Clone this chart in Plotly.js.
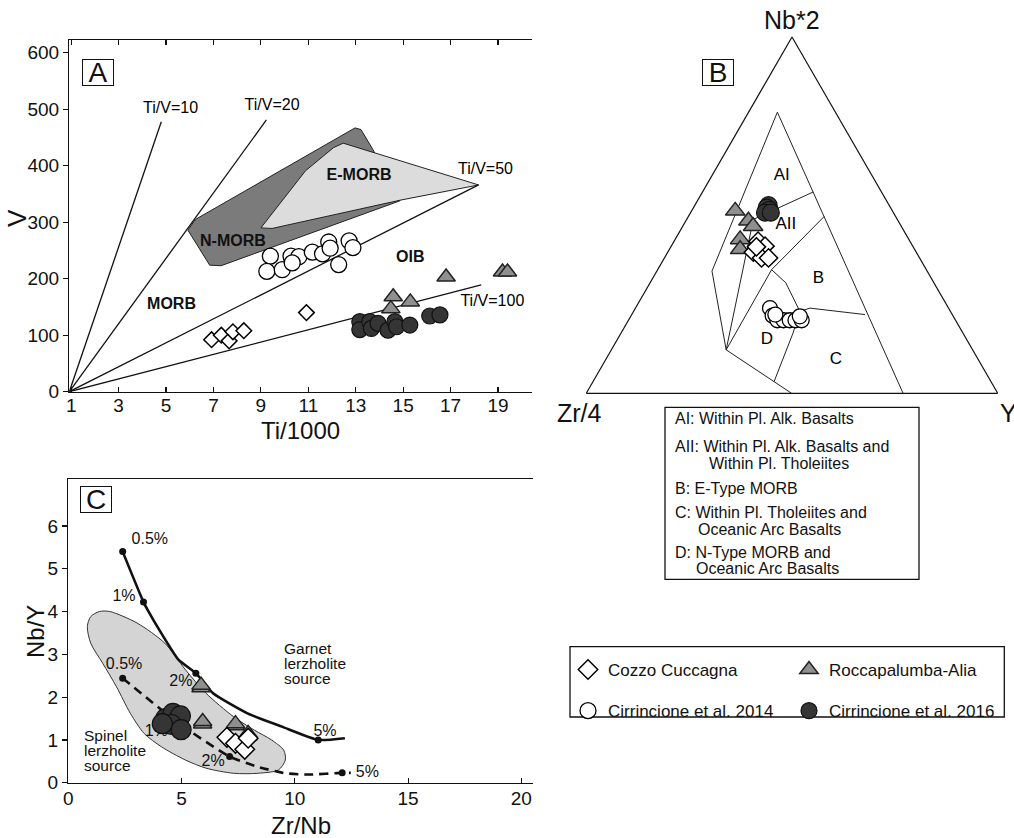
<!DOCTYPE html>
<html><head><meta charset="utf-8">
<script src="https://cdn.plot.ly/plotly-3.0.1.min.js"></script>
<style>html,body{margin:0;padding:0;background:#fff}</style>
</head><body><div id="chart" style="width:1014px;height:838px"></div>
<script>
// ================= DATA =================
// ---- Panel A : Ti/1000 vs V ----
const aTiTicks = [1,3,5,7,9,11,13,15,17,19];
const aVTicks = [0,100,200,300,400,500,600];
const aRefOrigin = [0.92, 0];
const aRefNames = ['Ti/V=10','Ti/V=20','Ti/V=50','Ti/V=100'];
const aRefEndTi = [4.80, 9.23, 18.18, 18.29];
const aRefEndV = [478, 481, 366, 189];
const aRefLabelTi = [5.19, 9.47, 18.47, 18.76];
const aRefLabelV = [501, 506, 393, 159];
const nmorbTi = [5.92, 6.24, 12.97, 13.22, 13.72, 14.87, 7.32, 6.84, 5.92];
const nmorbV  = [286, 305, 467, 464, 429, 338, 223, 224, 286];
const emorbTi = [9.0, 10.88, 12.06, 12.47, 18.18, 14.87, 9.47, 9.0];
const emorbV  = [290, 391, 432, 440, 366, 339, 289, 290];
const aFieldNames = ['MORB','N-MORB','E-MORB','OIB'];
const aFieldTi = [5.23, 7.82, 13.14, 15.3];
const aFieldV = [153, 265, 382, 236];
const aCozzoTi = [6.92, 7.33, 7.66, 7.82, 8.28, 10.92];
const aCozzoV  = [92, 100, 90, 106, 108, 140];
const aC14Ti = [9.4, 9.25, 9.9, 10.27, 10.6, 10.32, 11.17, 11.6, 11.86, 11.92, 12.28, 12.72, 12.88];
const aC14V  = [240, 213, 216, 240, 239, 228, 247, 244, 265, 254, 225, 267, 255];
const aRoccTi = [16.81, 19.19, 19.4, 14.58, 15.3, 14.48];
const aRoccV  = [203, 212, 212, 168, 159, 147];
const aC16Ti = [13.17, 13.17, 13.59, 13.66, 13.94, 14.36, 14.65, 14.72, 15.28, 16.12, 16.55];
const aC16V  = [124, 110, 124, 112, 121, 109, 124, 115, 118, 134, 136];

// ---- Panel B : Nb*2 - Zr/4 - Y ternary (a = Nb*2, b = Zr/4, c = Y) ----
const bOuterA = [0.789, 0.343, 0.122, 0.0];
const bOuterB = [0.141, 0.523, 0.599, 0.501];
const bOuterC = [0.070, 0.134, 0.279, 0.499];
const bRightA = [0.789, 0.0];
const bRightB = [0.141, 0.230];
const bRightC = [0.070, 0.770];
const bAIA = [0.565, 0.488]; const bAIB = [0.166, 0.350]; const bAIC = [0.269, 0.162];
const bQA = [0.488, 0.122]; const bQB = [0.350, 0.599]; const bQC = [0.162, 0.279];
const bAIIA = [0.496, 0.347, 0.122]; const bAIIB = [0.174, 0.376, 0.599]; const bAIIC = [0.330, 0.277, 0.279];
const bDBA = [0.347, 0.310, 0.230]; const bDBB = [0.376, 0.360, 0.366]; const bDBC = [0.277, 0.330, 0.404];
const bBCA = [0.230, 0.239, 0.221]; const bBCB = [0.366, 0.337, 0.212]; const bBCC = [0.404, 0.424, 0.567];
const bDCA = [0.230, 0.169, 0.033]; const bDCB = [0.366, 0.413, 0.527]; const bDCC = [0.404, 0.418, 0.440];
const bFieldNames = ['AI','AII','B','C','D'];
const bFieldA = [0.61, 0.474, 0.321, 0.094, 0.15];
const bFieldB = [0.22, 0.278, 0.275, 0.346, 0.486];
const bFieldC = [0.17, 0.248, 0.404, 0.56, 0.364];
const bRoccA = [0.512, 0.484, 0.469, 0.432, 0.404];
const bRoccB = [0.382, 0.364, 0.360, 0.410, 0.424];
const bRoccC = [0.106, 0.152, 0.171, 0.158, 0.172];
const bC16A = [0.528, 0.521, 0.515, 0.507, 0.507];
const bC16B = [0.293, 0.301, 0.297, 0.312, 0.298];
const bC16C = [0.179, 0.178, 0.188, 0.181, 0.195];
const bCozzoA = [0.427, 0.413, 0.396, 0.380, 0.380, 0.411];
const bCozzoB = [0.369, 0.359, 0.396, 0.384, 0.367, 0.381];
const bCozzoC = [0.204, 0.228, 0.208, 0.236, 0.253, 0.208];
const bC14A = [0.239, 0.218, 0.205, 0.205, 0.205, 0.205, 0.205, 0.216, 0.221];
const bC14B = [0.434, 0.438, 0.433, 0.418, 0.403, 0.389, 0.374, 0.373, 0.430];
const bC14C = [0.327, 0.344, 0.362, 0.377, 0.392, 0.406, 0.421, 0.411, 0.349];
const bKeyLines = ['AI: Within Pl. Alk. Basalts','AII: Within Pl. Alk. Basalts and','Within Pl. Tholeiites',
  'B: E-Type MORB','C: Within Pl. Tholeiites and','Oceanic Arc Basalts','D: N-Type MORB and','Oceanic Arc Basalts'];

// ---- Panel C : Zr/Nb vs Nb/Y ----
const cZrNbTicks = [0,5,10,15,20];
const cNbYTicks = [0,1,2,3,4,5,6];
const cGarnetX = [2.40, 3.32, 3.50, 4.11, 4.87, 5.63, 6.39, 7.91, 9.43, 11.03, 12.21];
const cGarnetY = [5.40, 4.22, 4.04, 3.49, 2.87, 2.56, 2.09, 1.62, 1.31, 1.00, 1.04];
const cGarnetDotX = [2.40, 3.32, 5.63, 11.03];
const cGarnetDotY = [5.40, 4.22, 2.56, 1.00];
const cSpinelX = [2.40, 4.87, 7.12, 8.37, 9.58, 10.65, 12.09, 12.47];
const cSpinelY = [2.44, 1.39, 0.61, 0.37, 0.22, 0.19, 0.23, 0.23];
const cSpinelDotX = [2.40, 7.12, 12.09];
const cSpinelDotY = [2.44, 0.61, 0.23];
const cPctText = ['0.5%','1%','2%','5%','0.5%','1%','2%','5%'];
const cPctX = [3.6, 2.46, 4.97, 11.33, 2.46, 3.88, 6.39, 13.2];
const cPctY = [5.67, 4.35, 2.35, 1.19, 2.75, 1.19, 0.48, 0.23];
const cFieldX = [0.84,0.99,1.37,1.83,3.04,4.26,5.17,6.08,7.30,8.21,8.97,9.51,9.58,9.28,8.37,7.30,6.08,5.17,4.11,3.35,2.74,2.13,1.52,0.99,0.84];
const cFieldY = [3.65,3.88,4.00,4.00,3.73,3.26,2.64,2.09,1.54,1.23,1.00,0.76,0.53,0.30,0.22,0.22,0.34,0.53,0.84,1.15,1.62,2.24,2.79,3.26,3.65];
const cGarnetLabel = ['Garnet','lerzholite','source'];
const cGarnetLabelX = 9.43;
const cGarnetLabelY = [3.14, 2.79, 2.44];
const cSpinelLabel = ['Spinel','lerzholite','source'];
const cSpinelLabelX = 0.61;
const cSpinelLabelY = [1.11, 0.76, 0.41];
const cC16X = [4.30, 4.62, 4.95, 4.55, 4.98, 4.15];
const cC16Y = [1.50, 1.62, 1.56, 1.36, 1.24, 1.38];
const cRoccX = [5.86, 5.86, 5.93, 5.93, 7.38, 7.38, 7.94, 7.94];
const cRoccY = [2.22, 2.28, 1.37, 1.43, 1.33, 1.38, 1.10, 1.15];
const cCozzoX = [7.0, 7.38, 7.79, 7.94];
const cCozzoY = [1.06, 0.92, 0.78, 1.04];

const seriesNames = ['Cozzo Cuccagna','Roccapalumba-Alia','Cirrincione et al. 2014','Cirrincione et al. 2016'];

// ================= STYLE =================
const FONT = 'Liberation Sans, Arial, Helvetica, sans-serif';
const W = 1014, H = 838;
const px = v => v / W;
const py = v => 1 - v / H;
const mk = {
  cozzo: s => ({symbol:'diamond', size:s, color:'#ffffff', line:{color:'#000', width:1.5}}),
  rocc:  s => ({symbol:'triangle-up', size:s, color:'#8f8f8f', line:{color:'#222', width:1.5}}),
  c14:   s => ({symbol:'circle', size:s, color:'#ffffff', line:{color:'#000', width:1.3}}),
  c16:   s => ({symbol:'circle', size:s, color:'#353535', line:{color:'#111', width:1.2}})
};

const traces = [];
// ---- Panel A traces ----
traces.push({type:'scatter', mode:'lines', x:nmorbTi, y:nmorbV, fill:'toself', fillcolor:'#7b7b7b',
  line:{color:'#222', width:1}, xaxis:'x', yaxis:'y', showlegend:false, hoverinfo:'skip'});
traces.push({type:'scatter', mode:'lines', x:emorbTi, y:emorbV, fill:'toself', fillcolor:'#dcdcdc',
  line:{color:'#222', width:1}, xaxis:'x', yaxis:'y', showlegend:false, hoverinfo:'skip'});
aRefNames.forEach((n,i) => traces.push({type:'scatter', mode:'lines',
  x:[aRefOrigin[0], aRefEndTi[i]], y:[aRefOrigin[1], aRefEndV[i]],
  line:{color:'#111', width:1.3}, xaxis:'x', yaxis:'y', showlegend:false, hoverinfo:'skip'}));
traces.push({type:'scatter', mode:'text', x:aRefLabelTi, y:aRefLabelV, text:aRefNames,
  textfont:{family:FONT, size:16, color:'#000'}, xaxis:'x', yaxis:'y', showlegend:false, hoverinfo:'skip'});
traces.push({type:'scatter', mode:'text', x:aFieldTi, y:aFieldV, text:aFieldNames,
  textfont:{family:FONT, size:16, color:'#111', weight:'bold'}, xaxis:'x', yaxis:'y', showlegend:false, hoverinfo:'skip'});
traces.push({type:'scatter', mode:'markers', x:aC14Ti, y:aC14V, name:seriesNames[2], marker:mk.c14(16),
  xaxis:'x', yaxis:'y', legend:'legend', legendgroup:'g3', legendrank:2, showlegend:true});
traces.push({type:'scatter', mode:'markers', x:aC16Ti, y:aC16V, name:seriesNames[3], marker:mk.c16(16),
  xaxis:'x', yaxis:'y', showlegend:false});
traces.push({type:'scatter', mode:'markers', x:aRoccTi, y:aRoccV, name:seriesNames[1], marker:mk.rocc(16),
  xaxis:'x', yaxis:'y', showlegend:false});
traces.push({type:'scatter', mode:'markers', x:aCozzoTi, y:aCozzoV, name:seriesNames[0], marker:mk.cozzo(12),
  xaxis:'x', yaxis:'y', showlegend:false});

// ---- Panel B traces ----
const tline = (a,b,c) => ({type:'scatterternary', mode:'lines', a:a, b:b, c:c, subplot:'ternary',
  line:{color:'#222', width:1}, showlegend:false, hoverinfo:'skip'});
traces.push(tline(bOuterA,bOuterB,bOuterC));
traces.push(tline(bRightA,bRightB,bRightC));
traces.push(tline(bAIA,bAIB,bAIC));
traces.push(tline(bQA,bQB,bQC));
traces.push(tline(bAIIA,bAIIB,bAIIC));
traces.push(tline(bDBA,bDBB,bDBC));
traces.push(tline(bBCA,bBCB,bBCC));
traces.push(tline(bDCA,bDCB,bDCC));
traces.push({type:'scatterternary', mode:'text', a:bFieldA, b:bFieldB, c:bFieldC, text:bFieldNames,
  textfont:{family:FONT, size:17, color:'#000'}, subplot:'ternary', showlegend:false, hoverinfo:'skip'});
traces.push({type:'scatterternary', mode:'markers', a:bC14A, b:bC14B, c:bC14C, name:seriesNames[2],
  marker:mk.c14(15), subplot:'ternary', showlegend:false});
traces.push({type:'scatterternary', mode:'markers', a:bC16A, b:bC16B, c:bC16C, name:seriesNames[3],
  marker:mk.c16(17), subplot:'ternary', showlegend:false});
traces.push({type:'scatterternary', mode:'markers', a:bRoccA, b:bRoccB, c:bRoccC, name:seriesNames[1],
  marker:mk.rocc(17), subplot:'ternary', showlegend:false});
traces.push({type:'scatterternary', mode:'markers', a:bCozzoA, b:bCozzoB, c:bCozzoC, name:seriesNames[0],
  marker:mk.cozzo(14), subplot:'ternary', showlegend:false});

// ---- Panel C traces ----
traces.push({type:'scatter', mode:'lines', x:cFieldX, y:cFieldY, fill:'toself', fillcolor:'#d4d4d4',
  line:{color:'#333', width:1, shape:'spline', smoothing:0.8}, xaxis:'x2', yaxis:'y3', showlegend:false, hoverinfo:'skip'});
traces.push({type:'scatter', mode:'lines', x:cGarnetX, y:cGarnetY, line:{color:'#111', width:2.6, shape:'spline', smoothing:0.5},
  xaxis:'x2', yaxis:'y3', showlegend:false, hoverinfo:'skip'});
traces.push({type:'scatter', mode:'lines', x:cSpinelX, y:cSpinelY, line:{color:'#111', width:2.6, dash:'9px,6px', shape:'spline', smoothing:0.5},
  xaxis:'x2', yaxis:'y3', showlegend:false, hoverinfo:'skip'});
traces.push({type:'scatter', mode:'markers', x:cGarnetDotX.concat(cSpinelDotX), y:cGarnetDotY.concat(cSpinelDotY),
  marker:{color:'#111', size:7}, xaxis:'x2', yaxis:'y3', showlegend:false, hoverinfo:'skip'});
traces.push({type:'scatter', mode:'text', x:cPctX, y:cPctY, text:cPctText,
  textfont:{family:FONT, size:16, color:'#111'}, xaxis:'x2', yaxis:'y3', showlegend:false, hoverinfo:'skip'});
traces.push({type:'scatter', mode:'markers', x:cC16X, y:cC16Y, name:seriesNames[3], marker:mk.c16(20),
  xaxis:'x2', yaxis:'y3', legend:'legend2', legendgroup:'g4', legendrank:2, showlegend:true});
traces.push({type:'scatter', mode:'markers', x:cRoccX, y:cRoccY, name:seriesNames[1], marker:mk.rocc(16),
  xaxis:'x2', yaxis:'y3', legend:'legend2', legendgroup:'g2', legendrank:1, showlegend:true});
traces.push({type:'scatter', mode:'markers', x:cCozzoX, y:cCozzoY, name:seriesNames[0], marker:mk.cozzo(15),
  xaxis:'x2', yaxis:'y3', legend:'legend', legendgroup:'g1', legendrank:1, showlegend:true});

// ================= LAYOUT =================
const axBase = {showline:true, linecolor:'#111', linewidth:1.3, showgrid:false, zeroline:false,
  tickcolor:'#111', ticklen:5, tickwidth:1.2, tickfont:{family:FONT, size:19, color:'#111'}, fixedrange:true};
const annotations = [];
const ann = (text, x, y, o) => annotations.push(Object.assign({text:text, x:px(x), y:py(y), xref:'paper', yref:'paper',
  showarrow:false, font:{family:FONT, size:17, color:'#111'}, xanchor:'center', yanchor:'middle'}, o||{}));
// panel letters
const boxed = {font:{family:FONT, size:28, color:'#111'}, bordercolor:'#111', borderwidth:1, borderpad:0, width:30, height:25, bgcolor:'#fff'};
ann('A', 98, 72, boxed);
ann('B', 718, 72.5, boxed);
ann('C', 95.5, 499.7, boxed);
// axis titles
ann('V', 17, 218, {font:{family:FONT, size:26, color:'#111'}, textangle:-90});
ann('Ti/1000', 300, 431, {font:{family:FONT, size:24, color:'#111'}});
ann('Nb/Y', 35, 632, {font:{family:FONT, size:24, color:'#111'}, textangle:-90});
ann('Zr/Nb', 301, 825, {font:{family:FONT, size:24, color:'#111'}});
ann('Nb*2', 791.7, 20, {font:{family:FONT, size:25, color:'#111'}});
ann('Zr/4', 579, 413, {font:{family:FONT, size:25, color:'#111'}});
ann('Y', 1008, 413, {font:{family:FONT, size:25, color:'#111'}});
// ternary field key
const keyX = [673.3, 673.3, 706.7, 673.3, 673.3, 696, 673.3, 694.3];
const keyY = [418.5, 446.7, 463.3, 488.3, 512.7, 529.3, 552.7, 568.3];
bKeyLines.forEach((t,i) => ann(t, keyX[i], keyY[i], {xanchor:'left', font:{family:FONT, size:16, color:'#111'}}));
// Panel C source labels (data coords)
cGarnetLabel.forEach((t,i) => annotations.push({text:t, x:cGarnetLabelX, y:cGarnetLabelY[i], xref:'x2', yref:'y3',
  showarrow:false, xanchor:'left', yanchor:'middle', font:{family:FONT, size:15.5, color:'#111'}}));
cSpinelLabel.forEach((t,i) => annotations.push({text:t, x:cSpinelLabelX, y:cSpinelLabelY[i], xref:'x2', yref:'y3',
  showarrow:false, xanchor:'left', yanchor:'middle', font:{family:FONT, size:15.5, color:'#111'}}));

const shapes = [
  {type:'rect', xref:'paper', yref:'paper', x0:px(665), x1:px(919), y0:py(407.3), y1:py(579.3), line:{color:'#111', width:1.3}},
  {type:'rect', xref:'paper', yref:'paper', x0:px(570), x1:px(1004.3), y0:py(646.7), y1:py(717), line:{color:'#111', width:1.3}}
];

const legendBase = {bgcolor:'rgba(0,0,0,0)', borderwidth:0, font:{family:FONT, size:17, color:'#111'},
  tracegroupgap:16, itemsizing:'trace', xanchor:'left', yanchor:'top', orientation:'v'};

const layout = {
  width:W, height:H, margin:{l:0, r:0, t:0, b:0}, paper_bgcolor:'#fff', plot_bgcolor:'rgba(0,0,0,0)',
  hovermode:false, showlegend:true,
  font:{family:FONT, color:'#111'},
  xaxis: Object.assign({}, axBase, {domain:[px(69.3), px(531.7)], range:[0.92, 20.42], anchor:'y',
    tickvals:aTiTicks, ticks:'inside', mirror:'ticks', ticklabelstandoff:-4}),
  yaxis: Object.assign({}, axBase, {domain:[py(391.7), py(40)], range:[0, 622.6], anchor:'x',
    tickvals:aVTicks, ticks:'outside'}),
  yaxis2: Object.assign({}, axBase, {overlaying:'y', side:'right', anchor:'x', range:[0, 622.6],
    tickvals:aVTicks, ticks:'inside', showticklabels:false}),
  xaxis2: Object.assign({}, axBase, {domain:[px(68.3), px(532.7)], range:[0, 20.5], anchor:'y3',
    tickvals:cZrNbTicks, ticks:'inside', mirror:true, ticklabelstandoff:-2}),
  yaxis3: Object.assign({}, axBase, {domain:[py(782.7), py(479.3)], range:[0, 7.09], anchor:'x2',
    tickvals:cNbYTicks, ticks:'outside'}),
  yaxis4: Object.assign({}, axBase, {overlaying:'y3', side:'right', anchor:'x2', range:[0, 7.09],
    tickvals:cNbYTicks, ticks:'inside', showticklabels:false}),
  ternary: {
    domain:{x:[px(586), px(998)], y:[py(393.3), py(37)]}, sum:1, bgcolor:'rgba(0,0,0,0)',
    aaxis:{showline:true, linecolor:'#111', linewidth:1.2, showgrid:false, ticks:'', showticklabels:false, title:{text:''}},
    baxis:{showline:true, linecolor:'#111', linewidth:1.2, showgrid:false, ticks:'', showticklabels:false, title:{text:''}},
    caxis:{showline:true, linecolor:'#111', linewidth:1.2, showgrid:false, ticks:'', showticklabels:false, title:{text:''}}
  },
  legend: Object.assign({}, legendBase, {x:px(568), y:py(652)}),
  legend2: Object.assign({}, legendBase, {x:px(789), y:py(652)}),
  annotations: annotations,
  shapes: shapes
};

Plotly.newPlot('chart', traces, layout, {displayModeBar:false, staticPlot:true});
</script>
</body></html>
